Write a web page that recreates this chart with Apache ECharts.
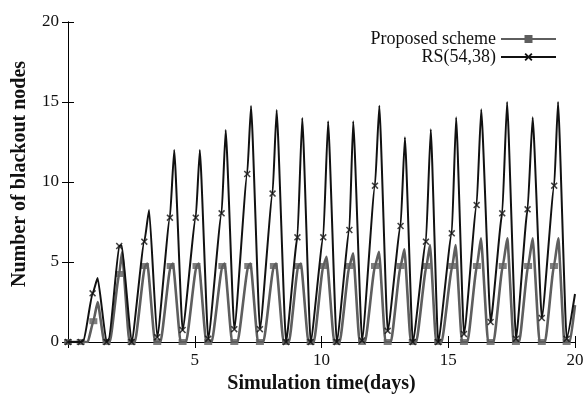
<!DOCTYPE html>
<html>
<head>
<meta charset="utf-8">
<script src="https://cdn.jsdelivr.net/npm/echarts@6/dist/echarts.min.js"></script>
<style>
  html, body {margin: 0; padding: 0; background: #fff;}
  #chart {width: 584px; height: 396px;}
</style>
</head>
<body>
<div id="chart"></div>
<script>
// values: [time (days), blackout nodes]
const propLine = [
  [0, 0], [0.5, 0], [0.78, 0], [1.0, 1.3], [1.17, 2.5], [1.43, 0], [1.65, 0],
  [2.02, 4.25], [2.13, 5.6], [2.42, 0], [2.64, 0],
  [3.04, 4.75], [3.13, 4.9], [3.43, 0], [3.65, 0],
  [4.05, 4.75], [4.14, 4.9], [4.44, 0], [4.66, 0],
  [5.07, 4.75], [5.16, 4.9], [5.45, 0], [5.67, 0],
  [6.09, 4.75], [6.18, 4.9], [6.47, 0], [6.69, 0],
  [7.11, 4.75], [7.2, 4.9], [7.49, 0], [7.71, 0],
  [8.12, 4.75], [8.21, 4.9], [8.5, 0], [8.72, 0],
  [9.08, 4.75], [9.19, 4.9], [9.48, 0], [9.7, 0],
  [10.07, 4.75], [10.2, 5.33], [10.5, 0], [10.72, 0],
  [11.1, 4.75], [11.25, 5.54], [11.5, 0], [11.72, 0],
  [12.11, 4.75], [12.27, 5.64], [12.52, 0], [12.74, 0],
  [13.12, 4.75], [13.27, 5.79], [13.52, 0], [13.74, 0],
  [14.14, 4.75], [14.28, 6.06], [14.52, 0], [14.74, 0],
  [15.16, 4.75], [15.29, 6.06], [15.54, 0], [15.76, 0],
  [16.13, 4.75], [16.29, 6.48], [16.57, 0], [16.79, 0],
  [17.15, 4.75], [17.33, 6.48], [17.58, 0], [17.8, 0],
  [18.15, 4.75], [18.33, 6.48], [18.6, 0], [18.82, 0],
  [19.17, 4.75], [19.34, 6.48], [19.58, 0], [19.8, 0],
  [20, 2.3]
];
const propMarks = [
  [0, 0], [0.5, 0], [1.0, 1.3], [1.52, 0], [2.02, 4.25], [2.51, 0],
  [3.04, 4.75], [3.52, 0], [4.05, 4.75], [4.52, 0], [5.07, 4.75], [5.53, 0],
  [6.09, 4.75], [6.56, 0], [7.11, 4.75], [7.57, 0], [8.12, 4.75], [8.6, 0],
  [9.08, 4.75], [9.57, 0], [10.07, 4.75], [10.6, 0], [11.1, 4.75], [11.6, 0],
  [12.11, 4.75], [12.61, 0], [13.12, 4.75], [13.6, 0], [14.14, 4.75], [14.6, 0],
  [15.16, 4.75], [15.62, 0], [16.13, 4.75], [16.67, 0], [17.15, 4.75], [17.67, 0],
  [18.15, 4.75], [18.69, 0], [19.17, 4.75], [19.67, 0]
];
const rsLine = [
  [0, 0], [0.5, 0], [0.62, 0.1], [0.97, 3.04], [1.17, 4.0], [1.52, 0],
  [1.62, 0.2], [2.02, 6.0], [2.12, 6.05], [2.51, 0],
  [3.01, 6.27], [3.2, 8.25], [3.52, 0.3],
  [4.02, 7.77], [4.19, 12.0], [4.52, 0.75],
  [5.04, 7.77], [5.2, 12.0], [5.53, 0.2],
  [6.06, 8.04], [6.22, 13.25], [6.56, 0.8],
  [7.07, 10.5], [7.22, 14.75], [7.57, 0.8],
  [8.07, 9.28], [8.23, 14.5], [8.6, 0],
  [9.05, 6.54], [9.24, 14.0], [9.57, 0],
  [10.07, 6.54], [10.26, 13.8], [10.6, 0],
  [11.1, 7.0], [11.25, 13.8], [11.6, 0.1],
  [12.11, 9.77], [12.28, 14.77], [12.61, 0.7],
  [13.12, 7.25], [13.29, 12.8], [13.6, 0],
  [14.12, 6.27], [14.31, 13.3], [14.6, 0],
  [15.14, 6.79], [15.31, 14.04], [15.62, 0.5],
  [16.12, 8.56], [16.3, 14.54], [16.67, 1.25],
  [17.13, 8.04], [17.32, 15.0], [17.67, 0.2],
  [18.13, 8.29], [18.33, 14.04], [18.69, 1.5],
  [19.18, 9.77], [19.33, 15.0], [19.67, 0.2],
  [20, 3.0]
];
const rsMarks = [
  [0, 0], [0.5, 0], [0.97, 3.04], [1.52, 0], [2.02, 6.0], [2.51, 0],
  [3.01, 6.27], [3.52, 0.3], [4.02, 7.77], [4.52, 0.75], [5.04, 7.77], [5.53, 0.2],
  [6.06, 8.04], [6.56, 0.8], [7.07, 10.5], [7.57, 0.8], [8.07, 9.28], [8.6, 0],
  [9.05, 6.54], [9.57, 0], [10.07, 6.54], [10.6, 0], [11.1, 7.0], [11.6, 0.1],
  [12.11, 9.77], [12.61, 0.7], [13.12, 7.25], [13.6, 0], [14.12, 6.27], [14.6, 0],
  [15.14, 6.79], [15.62, 0.5], [16.12, 8.56], [16.67, 1.25], [17.13, 8.04], [17.67, 0.2],
  [18.13, 8.29], [18.69, 1.5], [19.18, 9.77], [19.67, 0.2]
];
const axisTicks = [0, 5, 10, 15, 20];

const FONT = '"Liberation Serif", "Times New Roman", serif';
const GRAY = '#5e5e5e';
const BLACK = '#111';
const xMark = 'path://M0,1.6L1.6,0L5,3.4L8.4,0L10,1.6L6.6,5L10,8.4L8.4,10L5,6.6L1.6,10L0,8.4L3.4,5Z';

const chart = echarts.init(document.getElementById('chart'));

const tickAxis = (extra) => ({
  min: 0, max: 20, interval: 5,
  axisLine: {show: true, lineStyle: {color: '#000', width: 1}},
  axisTick: {show: true, inside: true, length: 6, lineStyle: {color: '#000'}},
  splitLine: {show: false},
  ...extra
});

chart.setOption({
  animation: false,
  backgroundColor: '#fff',
  grid: {left: 68, right: 9, top: 22, bottom: 54, outerBoundsMode: 'none'},
  legend: {
    data: ['Proposed scheme', 'RS(54,38)'],
    orient: 'vertical',
    align: 'right',
    right: 27, top: 30, padding: 0,
    itemWidth: 55, itemHeight: 10, itemGap: 0,
    textStyle: {fontFamily: FONT, fontSize: 18, color: '#111'}
  },
  xAxis: [
    tickAxis({
      type: 'value', position: 'bottom',
      name: 'Simulation time(days)', nameLocation: 'middle', nameGap: 32,
      nameTextStyle: {fontFamily: FONT, fontSize: 20, fontWeight: 'bold', color: '#111'},
      axisLabel: {
        fontFamily: FONT, fontSize: 17, color: '#111', margin: 10,
        formatter: v => (axisTicks.indexOf(v) > 0 ? String(v) : '')
      }
    }),
    tickAxis({type: 'value', position: 'top', axisLabel: {show: false}})
  ],
  yAxis: [
    tickAxis({
      type: 'value', position: 'left',
      name: 'Number of blackout nodes', nameLocation: 'middle', nameGap: 38,
      nameTextStyle: {fontFamily: FONT, fontSize: 20, fontWeight: 'bold', color: '#111', padding: [0, 0, 0, 16]},
      axisLabel: {fontFamily: FONT, fontSize: 17, color: '#111', margin: 9}
    }),
    tickAxis({type: 'value', position: 'right', axisLabel: {show: false}})
  ],
  series: [
    {
      name: 'Proposed scheme', type: 'line', data: propLine,
      smooth: 0.15, smoothMonotone: 'x', showSymbol: false,
      symbol: 'rect', symbolSize: [8, 6],
      lineStyle: {color: GRAY, width: 2.6},
      itemStyle: {color: GRAY},
      z: 2
    },
    {
      name: 'Proposed scheme', type: 'scatter', data: propMarks,
      symbol: 'rect', symbolSize: [8, 6],
      itemStyle: {color: GRAY}, z: 3
    },
    {
      name: 'RS(54,38)', type: 'line', data: rsLine,
      smooth: 0.15, smoothMonotone: 'x', showSymbol: false,
      symbol: xMark, symbolSize: 7,
      lineStyle: {color: BLACK, width: 2},
      itemStyle: {color: BLACK},
      z: 4
    },
    {
      name: 'RS(54,38)', type: 'scatter', data: rsMarks,
      symbol: xMark, symbolSize: 7,
      itemStyle: {color: BLACK}, z: 5
    }
  ]
});
</script>
</body>
</html>
